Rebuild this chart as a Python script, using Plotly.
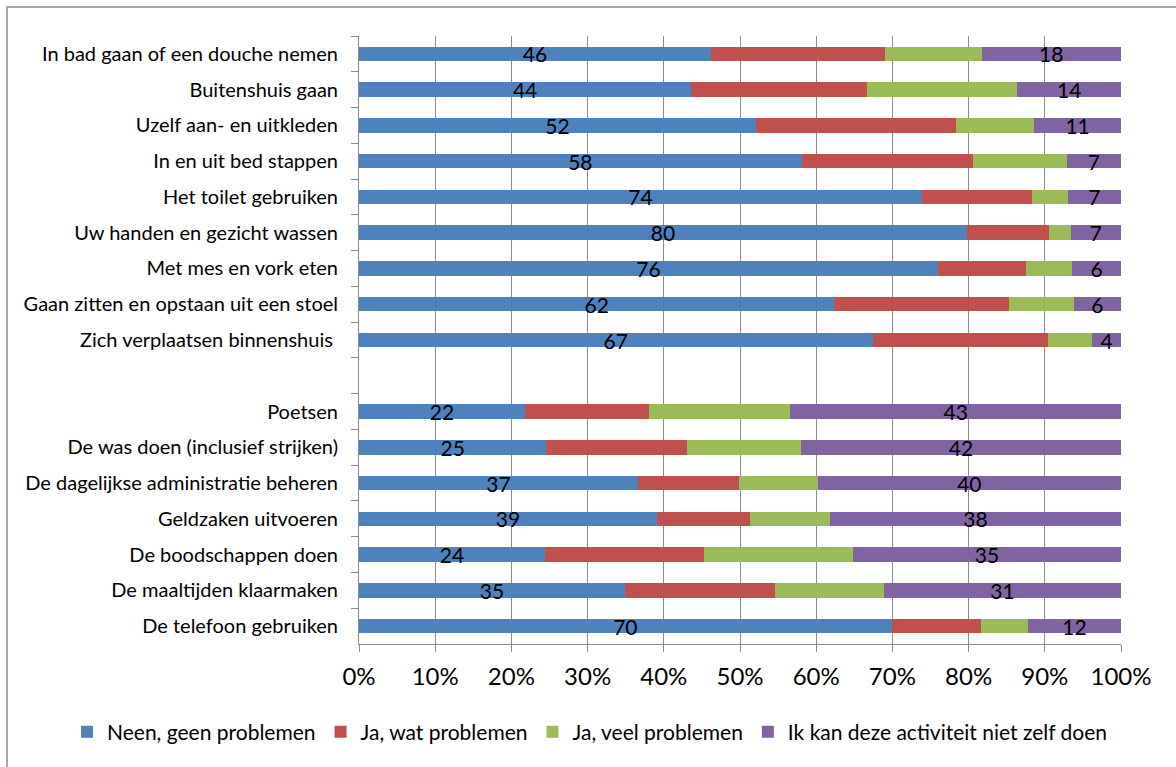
import plotly.graph_objects as go

# Activities, listed top to bottom; the blank entry separates the two groups
activities = [
    "In bad gaan of een douche nemen",
    "Buitenshuis gaan",
    "Uzelf aan- en uitkleden",
    "In en uit bed stappen",
    "Het toilet gebruiken",
    "Uw handen en gezicht wassen",
    "Met mes en vork eten",
    "Gaan zitten en opstaan uit een stoel",
    "Zich verplaatsen binnenshuis\u00a0",
    " ",
    "Poetsen",
    "De was doen (inclusief strijken)",
    "De dagelijkse administratie beheren",
    "Geldzaken uitvoeren",
    "De boodschappen doen",
    "De maaltijden klaarmaken",
    "De telefoon gebruiken",
]

# Share of respondents (%) per answer
geen_problemen = [46.2, 43.6, 52.1, 58.1, 73.9, 79.8, 76.0, 62.4, 67.4, None,
                  21.8, 24.6, 36.6, 39.1, 24.4, 34.9, 69.9]
wat_problemen = [22.8, 23.1, 26.3, 22.5, 14.4, 10.7, 11.5, 22.9, 23.0, None,
                 16.2, 18.5, 13.3, 12.2, 20.9, 19.7, 11.7]
veel_problemen = [12.7, 19.7, 10.2, 12.3, 4.7, 2.9, 6.1, 8.5, 5.8, None,
                  18.6, 14.9, 10.3, 10.5, 19.5, 14.3, 6.2]
niet_zelf = [18.3, 13.6, 11.4, 7.1, 7.0, 6.6, 6.4, 6.2, 3.8, None,
             43.4, 42.0, 39.8, 38.2, 35.2, 31.1, 12.2]

series_names = [
    "Neen, geen problemen",
    "Ja, wat problemen",
    "Ja, veel problemen",
    "Ik kan deze activiteit niet zelf doen",
]
series_values = [geen_problemen, wat_problemen, veel_problemen, niet_zelf]
series_colors = ["#4F81BD", "#C0504D", "#9BBB59", "#8064A2"]
labelled = [True, False, False, True]

x_ticks = list(range(0, 101, 10))

FONT = "Lato, 'Open Sans', sans-serif"
GRID = "#8c8c8c"

fig = go.Figure()
for name, vals, color, show in zip(series_names, series_values, series_colors, labelled):
    texts = [("" if v is None else f"{v:.0f}") for v in vals] if show else None
    fig.add_trace(go.Bar(
        name=name,
        y=activities,
        x=vals,
        orientation="h",
        marker=dict(color=color, line=dict(width=0)),
        text=texts,
        textposition="inside" if show else "none",
        insidetextanchor="middle",
        constraintext="none",
        textangle=0,
        textfont=dict(family=FONT, size=21, color="black"),
        hoverinfo="name+x",
    ))

W, H = 1176, 767
L, R, T, B = 359, 55, 36, 123
pw, ph = W - L - R, H - T - B

def px_x(p):
    return (p - L) / pw

def px_y(p):
    return (H - B - p) / ph

fig.update_layout(
    width=W, height=H,
    margin=dict(l=L, r=R, t=T, b=B, pad=0),
    barmode="stack",
    bargap=0.595,
    paper_bgcolor="white",
    plot_bgcolor="white",
    font=dict(family=FONT, color="black"),
    showlegend=True,
    legend=dict(
        orientation="h",
        x=px_x(67), xanchor="left",
        y=px_y(732), yanchor="middle",
        font=dict(family=FONT, size=21, color="black"),
        itemwidth=30,
        traceorder="normal",
        bgcolor="rgba(0,0,0,0)",
    ),
    xaxis=dict(
        range=[0, 100],
        tickvals=x_ticks,
        ticktext=[f"{t}%" for t in x_ticks],
        showgrid=True, gridcolor=GRID, gridwidth=1,
        showline=True, linecolor=GRID, linewidth=1,
        ticks="outside", ticklen=7, tickcolor=GRID,
        tickfont=dict(family=FONT, size=24, color="black"),
        ticklabelstandoff=4,
        zeroline=False,
        fixedrange=True,
    ),
    yaxis=dict(
        type="category",
        categoryorder="array",
        categoryarray=activities,
        autorange="reversed",
        showgrid=False,
        showline=True, linecolor=GRID, linewidth=1,
        ticks="outside", ticklen=7, tickcolor=GRID,
        tickson="boundaries",
        tickfont=dict(family=FONT, size=20, color="black"),
        ticklabelstandoff=16,
        fixedrange=True,
    ),
    shapes=[dict(
        type="rect", xref="paper", yref="paper",
        x0=px_x(7), x1=px_x(W + 40), y0=px_y(7), y1=px_y(H + 40),
        line=dict(color="#8c8c8c", width=1.5),
        fillcolor="rgba(0,0,0,0)",
        layer="below",
    )],
)

fig.write_html("out.html")
